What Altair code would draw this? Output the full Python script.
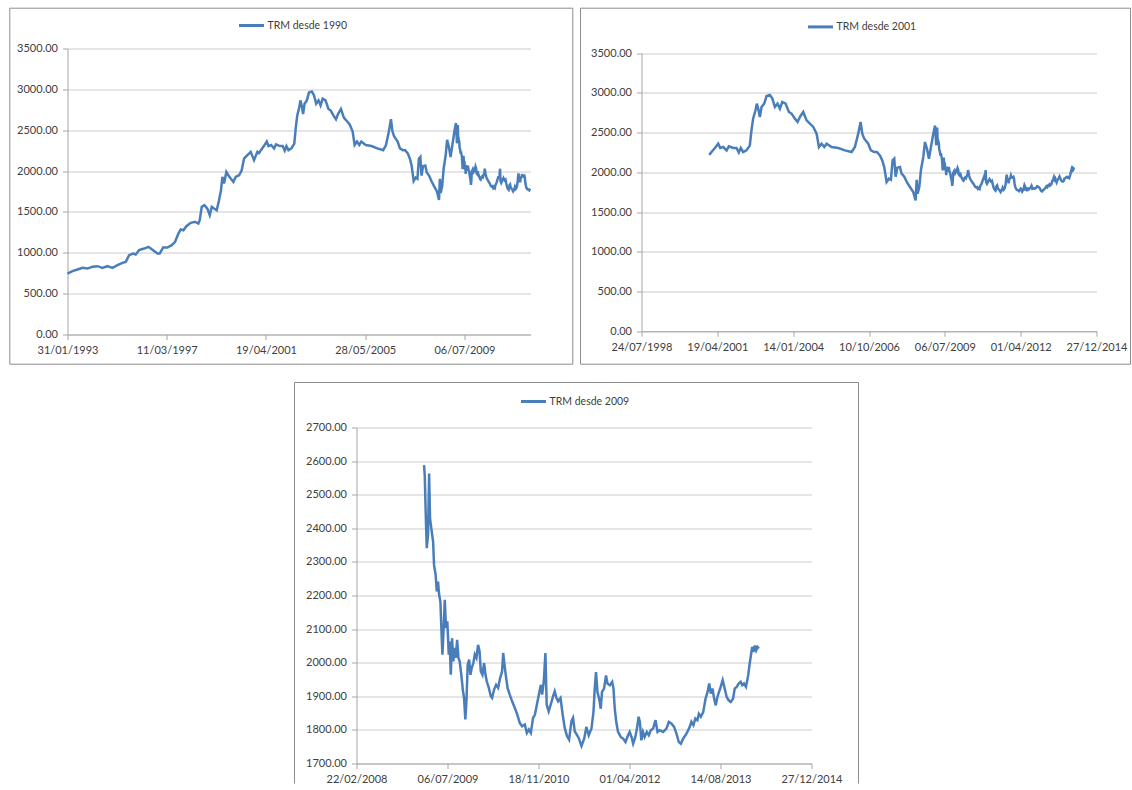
import altair as alt
import pandas as pd

# ---------------- data (TRM, COP per USD) ----------------
fechas_a = [
    "1993-01-31", "1993-04-16", "1993-07-01", "1993-09-14", "1993-11-29", "1994-02-12",
    "1994-04-29", "1994-07-13", "1994-09-27", "1994-12-11", "1995-02-25", "1995-05-11",
    "1995-07-01", "1995-08-20", "1995-10-19", "1995-11-28", "1996-01-18", "1996-04-03",
    "1996-06-07", "1996-08-17", "1996-10-21", "1996-11-25", "1997-01-15", "1997-03-21",
    "1997-05-25", "1997-07-15", "1997-09-03", "1997-10-08", "1997-11-18", "1998-01-02",
    "1998-03-08", "1998-05-13", "1998-07-02", "1998-07-22", "1998-08-22", "1998-10-01",
    "1998-11-15", "1998-12-21", "1999-01-20", "1999-02-24", "1999-04-05", "1999-05-10",
    "1999-06-09", "1999-06-30", "1999-07-25", "1999-08-29", "1999-09-28", "1999-11-03",
    "1999-12-13", "2000-01-17", "2000-03-08", "2000-04-17", "2000-05-22", "2000-07-12",
    "2000-08-31", "2000-10-20", "2000-12-10",
]
valores_a = [
    746, 775, 795, 816, 807, 828,
    836, 816, 836, 816, 848, 877,
    889, 971, 991, 979, 1032, 1052,
    1073, 1032, 991, 991, 1064, 1064,
    1093, 1134, 1236, 1285, 1276, 1325,
    1366, 1378, 1358, 1399, 1562, 1582,
    1541, 1460, 1562, 1541, 1521, 1643,
    1766, 1929, 1847, 1990, 1949, 1908,
    1868, 1929, 1949, 2010, 2153, 2194,
    2235, 2133, 2235,
]

fechas_b = [
    "2001-01-02", "2001-02-01", "2001-03-18", "2001-05-01", "2001-05-27", "2001-07-06",
    "2001-08-19", "2001-09-18", "2001-11-14", "2001-12-28", "2002-01-27", "2002-02-22",
    "2002-03-25", "2002-05-08", "2002-06-21", "2002-07-13", "2002-08-04", "2002-09-04",
    "2002-09-22", "2002-10-10", "2002-11-01", "2002-11-23", "2002-12-28", "2003-01-28",
    "2003-03-13", "2003-04-13", "2003-05-18", "2003-06-22", "2003-07-23", "2003-08-23",
    "2003-10-06", "2003-11-19", "2003-12-24", "2004-02-06", "2004-03-12", "2004-04-12",
    "2004-05-26", "2004-07-09", "2004-08-22", "2004-10-05", "2004-11-18", "2004-12-19",
    "2005-01-23", "2005-02-27", "2005-03-30", "2005-06-04", "2005-08-31", "2005-11-27",
    "2006-02-23", "2006-04-07", "2006-05-21", "2006-06-21", "2006-07-13", "2006-08-08",
    "2006-08-26", "2006-09-30", "2006-11-04", "2006-12-18", "2007-01-22", "2007-03-03",
    "2007-04-03", "2007-04-29", "2007-05-30", "2007-06-30", "2007-07-26", "2007-08-17",
    "2007-09-08", "2007-09-26", "2007-10-18", "2007-11-22", "2007-12-14", "2008-01-18",
    "2008-02-22", "2008-04-02", "2008-05-16", "2008-06-16", "2008-06-29", "2008-07-12",
    "2008-08-03", "2008-08-25", "2008-09-25", "2008-10-17", "2008-11-12", "2008-12-08",
    "2009-01-04", "2009-02-04",
]
valores_b = [
    2220, 2256, 2306, 2361, 2306, 2319,
    2277, 2327, 2306, 2306, 2250, 2306,
    2256, 2277, 2336, 2529, 2676, 2781,
    2865, 2802, 2697, 2823, 2865, 2961,
    2974, 2931, 2823, 2865, 2802, 2886,
    2865, 2760, 2740, 2676, 2634, 2697,
    2760, 2654, 2613, 2571, 2487, 2319,
    2361, 2319, 2361, 2319, 2306, 2277,
    2256, 2319, 2487, 2634, 2487, 2424,
    2403, 2361, 2277, 2256, 2256, 2214,
    2151, 2067, 1878, 1920, 1906, 2151,
    2172, 1945, 2059, 2067, 1983, 1945,
    1878, 1815, 1752, 1647, 1906, 1731,
    1815, 2029, 2193, 2382, 2298, 2172,
    2319, 2487,
]

fechas_c = [
    "2009-02-27", "2009-03-03", "2009-03-08", "2009-03-14", "2009-03-21", "2009-03-27",
    "2009-04-01", "2009-04-08", "2009-04-18", "2009-04-23", "2009-05-02", "2009-05-08",
    "2009-05-15", "2009-05-21", "2009-05-28", "2009-06-03", "2009-06-08", "2009-06-15",
    "2009-06-21", "2009-06-28", "2009-07-05", "2009-07-13", "2009-07-18", "2009-07-24",
    "2009-07-31", "2009-08-07", "2009-08-15", "2009-08-20", "2009-08-28", "2009-09-04",
    "2009-09-11", "2009-09-20", "2009-09-28", "2009-10-05", "2009-10-12", "2009-10-18",
    "2009-10-25", "2009-11-02", "2009-11-09", "2009-11-16", "2009-11-25", "2009-12-03",
    "2009-12-12", "2009-12-21", "2009-12-29", "2010-01-05", "2010-01-14", "2010-01-23",
    "2010-01-31", "2010-02-07", "2010-02-18", "2010-03-01", "2010-03-08", "2010-03-19",
    "2010-03-30", "2010-04-10", "2010-04-21", "2010-05-02", "2010-05-08", "2010-05-13",
    "2010-05-22", "2010-06-01", "2010-06-13", "2010-06-26", "2010-07-11", "2010-07-25",
    "2010-08-07", "2010-08-20", "2010-09-04", "2010-09-15", "2010-09-26", "2010-10-07",
    "2010-10-19", "2010-10-29", "2010-11-09", "2010-11-20", "2010-12-01", "2010-12-08",
    "2010-12-17", "2010-12-26", "2011-01-02", "2011-01-13", "2011-01-24", "2011-02-06",
    "2011-02-15", "2011-02-25", "2011-03-06", "2011-03-19", "2011-03-31", "2011-04-11",
    "2011-04-24", "2011-05-05", "2011-05-18", "2011-05-27", "2011-06-05", "2011-06-16",
    "2011-06-27", "2011-07-12", "2011-07-27", "2011-08-08", "2011-08-21", "2011-09-05",
    "2011-09-16", "2011-09-23", "2011-09-30", "2011-10-08", "2011-10-17", "2011-10-26",
    "2011-11-02", "2011-11-13", "2011-11-24", "2011-12-02", "2011-12-15", "2011-12-28",
    "2012-01-04", "2012-01-11", "2012-01-19", "2012-01-29", "2012-02-13", "2012-02-26",
    "2012-03-10", "2012-03-24", "2012-04-02", "2012-04-12", "2012-04-21", "2012-05-03",
    "2012-05-12", "2012-05-21", "2012-05-28", "2012-06-05", "2012-06-14", "2012-06-23",
    "2012-07-05", "2012-07-16", "2012-07-27", "2012-08-09", "2012-08-22", "2012-09-02",
    "2012-09-14", "2012-10-03", "2012-10-21", "2012-11-03", "2012-11-17", "2012-12-02",
    "2012-12-15", "2012-12-28", "2013-01-08", "2013-01-21", "2013-02-02", "2013-02-13",
    "2013-02-26", "2013-03-07", "2013-03-18", "2013-03-29", "2013-04-09", "2013-04-17",
    "2013-04-28", "2013-05-11", "2013-05-24", "2013-06-04", "2013-06-13", "2013-06-22",
    "2013-07-01", "2013-07-10", "2013-07-19", "2013-07-28", "2013-08-06", "2013-08-15",
    "2013-08-26", "2013-09-06", "2013-09-17", "2013-09-28", "2013-10-09", "2013-10-22",
    "2013-10-31", "2013-11-11", "2013-11-22", "2013-12-03", "2013-12-12", "2013-12-21",
    "2014-01-01", "2014-01-13", "2014-01-20", "2014-01-28", "2014-02-04", "2014-02-11",
    "2014-02-19", "2014-02-26", "2014-03-05", "2014-03-13",
]
valores_c = [
    2588, 2558, 2450, 2341, 2380, 2563,
    2430, 2400, 2360, 2291, 2261, 2212,
    2241, 2202, 2182, 2093, 2024, 2103,
    2187, 2103, 2123, 2024, 2063, 1964,
    2073, 2004, 2044, 2014, 2068, 2014,
    2004, 1964, 1920, 1895, 1831, 1885,
    1994, 2009, 1964, 1984, 1999, 2024,
    2014, 2053, 2034, 1974, 1964, 1999,
    1964, 1944, 1925, 1900, 1895, 1920,
    1934, 1925, 1954, 1974, 2029, 2004,
    1964, 1925, 1905, 1885, 1865, 1845,
    1821, 1811, 1816, 1791, 1801, 1791,
    1836, 1845, 1875, 1905, 1934, 1905,
    1944, 2029, 1875, 1855, 1875, 1900,
    1915, 1895, 1885, 1895, 1845, 1806,
    1781, 1771, 1826, 1836, 1796, 1786,
    1776, 1752, 1774, 1809, 1784, 1804,
    1853, 1923, 1972, 1913, 1893, 1863,
    1913, 1923, 1962, 1938, 1933, 1943,
    1923, 1863, 1824, 1794, 1779, 1774,
    1764, 1784, 1794, 1779, 1759, 1779,
    1804, 1839, 1824, 1769, 1794, 1779,
    1794, 1784, 1799, 1804, 1829, 1794,
    1799, 1794, 1804, 1824, 1819, 1809,
    1789, 1764, 1759, 1774, 1784, 1794,
    1809, 1824, 1814, 1834, 1829, 1848,
    1839, 1853, 1893, 1913, 1938, 1908,
    1923, 1893, 1873, 1898, 1913, 1928,
    1948, 1923, 1898, 1888, 1883, 1893,
    1923, 1928, 1938, 1943, 1933, 1938,
    1928, 1962, 1992, 2022, 2047, 2032,
    2051, 2037, 2047, 2042,
]

series = ["TRM desde 1990", "TRM desde 2001", "TRM desde 2009"]

# axis domains and tick dates (Excel date axes)
dominio_1 = ["1993-01-31", "2012-03-30"]
ticks_1 = ["1993-01-31", "1997-03-11", "2001-04-19", "2005-05-28", "2009-07-06"]
dominio_2 = ["1998-07-24", "2014-12-27"]
ticks_2 = ["1998-07-24", "2001-04-19", "2004-01-14", "2006-10-10", "2009-07-06",
           "2012-04-01", "2014-12-27"]
dominio_3 = ["2008-02-22", "2014-12-27"]
ticks_3 = ["2008-02-22", "2009-07-06", "2010-11-18", "2012-04-01", "2013-08-14",
           "2014-12-27"]
y_ticks_1 = [0, 500, 1000, 1500, 2000, 2500, 3000, 3500]
y_ticks_3 = [1700, 1800, 1900, 2000, 2100, 2200, 2300, 2400, 2500, 2600, 2700]

# ---------------- styles ----------------
BLUE = "#4a7ebb"
BORDER = "#8c8c8c"
AXIS = "#a6a6a6"
GRID = "#cccccc"
TEXT = "#404040"
FONT = "Lato"

df = pd.DataFrame({"fecha": fechas_a + fechas_b + fechas_c,
                   "trm": valores_a + valores_b + valores_c})
df1 = df[df["fecha"] <= "2012-03-30"].assign(serie=series[0])
df2 = df[df["fecha"] >= "2001-01-01"].assign(serie=series[1])
df3 = df[df["fecha"] >= "2009-02-27"].assign(serie=series[2])
one = pd.DataFrame({"k": [0]})


def dt(s):
    y, m, d = (int(p) for p in s.split("-"))
    return alt.DateTime(year=y, month=m, date=d, utc=True)


def line_layer(data, name, xdom, xticks, ydom, yticks, lx, ly, yrange=None):
    yscale = dict(domain=ydom, nice=False, zero=False)
    if yrange is not None:
        yscale["range"] = yrange
    return alt.Chart(data).mark_line(strokeWidth=2.5, color=BLUE).encode(
        x=alt.X("fecha:T", title=None,
                scale=alt.Scale(type="utc", domain=[dt(v) for v in xdom]),
                axis=alt.Axis(values=[dt(v) for v in xticks],
                              labelExpr="utcFormat(datum.value, '%d/%m/%Y')",
                              grid=False, labelFlush=False,
                              labelOverlap=False, tickSize=5, labelPadding=5)),
        y=alt.Y("trm:Q", title=None,
                scale=alt.Scale(**yscale),
                axis=alt.Axis(values=yticks, format=".2f", grid=True,
                              tickSize=5, labelPadding=5)),
        color=alt.Color("serie:N",
                        scale=alt.Scale(domain=[name], range=[BLUE]),
                        legend=alt.Legend(orient="none", legendX=lx, legendY=ly,
                                          title=None, symbolType="stroke",
                                          symbolSize=625, symbolStrokeWidth=3,
                                          labelOffset=2, padding=0)),
    )


def box(x1, x2, y1, y2):
    return alt.Chart(one).mark_rect(fillOpacity=0, stroke=BORDER, strokeWidth=1).encode(
        x=alt.value(x1), x2=alt.value(x2), y=alt.value(y1), y2=alt.value(y2))


def open_box(x1, x2, y1, y2):
    left = alt.Chart(one).mark_rule(color=BORDER, strokeWidth=1).encode(
        x=alt.value(x1), y=alt.value(y1), y2=alt.value(y2))
    right = alt.Chart(one).mark_rule(color=BORDER, strokeWidth=1).encode(
        x=alt.value(x2), y=alt.value(y1), y2=alt.value(y2))
    top = alt.Chart(one).mark_rule(color=BORDER, strokeWidth=1).encode(
        x=alt.value(x1), x2=alt.value(x2), y=alt.value(y1))
    return left + right + top


# panel 1: plot origin at page (66.7, 48.3)
c1 = alt.layer(
    box(-57.7, 505.3, -40.3, 315.7),
    line_layer(df1, series[0], dominio_1, ticks_1, [0, 3500], y_ticks_1, 170, -37),
).properties(width=463, height=286)

# panel 2: origin aligned with panel 1 (y 48.3); the value range starts 4.7 px lower
c2 = alt.layer(
    box(-61, 489, -40.3, 315.7),
    line_layer(df2, series[1], dominio_2, ticks_2, [0, 3500], y_ticks_1, 165, -35.6,
               yrange=[282.7, 4.7]),
).properties(width=455, height=282.7)

# panel 3: plot origin at page (355, 426)
c3 = alt.layer(
    open_box(-62, 502, -45, 356),
    line_layer(df3, series[2], dominio_3, ticks_3, [1700, 2700], y_ticks_3, 163, -40),
).properties(width=455, height=336)

spacer = alt.Chart(one).mark_rect(opacity=0).encode(
    x=alt.value(0), x2=alt.value(226), y=alt.value(0), y2=alt.value(1)
).properties(width=226, height=1)

top_row = alt.hconcat(c1, c2, spacing=6).resolve_scale(color="independent")
bottom_row = alt.hconcat(spacer, c3, spacing=0).resolve_scale(color="independent")

chart = (
    alt.vconcat(top_row, bottom_row, spacing=16)
    .resolve_scale(color="independent")
    .properties(padding={"left": 8.5, "top": 7.5, "right": 0, "bottom": 0},
                background="white")
    .configure_view(strokeWidth=0)
    .configure_axis(labelFont=FONT, labelFontSize=11, labelColor=TEXT,
                    domainColor=AXIS, tickColor=AXIS, gridColor=GRID)
    .configure_legend(labelFont=FONT, labelFontSize=10.5, labelColor=TEXT)
)

chart.save("out.html", embed_options={"renderer": "svg", "actions": False})
